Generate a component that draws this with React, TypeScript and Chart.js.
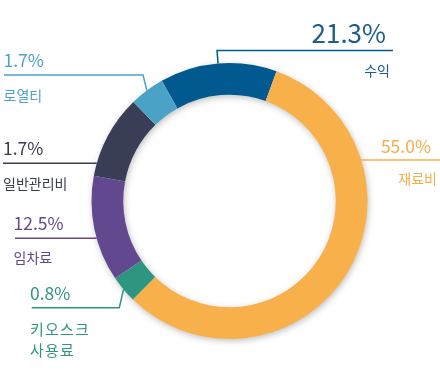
import { useEffect, useRef } from 'react';
import { Chart, registerables } from 'chart.js';

Chart.register(...registerables);

// ---- data ----
const categories = ['수익', '재료비', '키오스크 사용료', '임차료', '일반관리비', '로열티'];
const percentLabels = ['21.3%', '55.0%', '0.8%', '12.5%', '1.7%', '1.7%'];
const arcShares = [13.7, 56.8, 3.2, 12.4, 9.8, 4.1];

// ---- styles ----
const sliceColors = ['#005a8f', '#f8b04a', '#2e9680', '#62488f', '#393d55', '#4aa3c6'];
const textColors = ['#1b5d8c', '#f5ae4a', '#2e9680', '#62488f', '#3a3c4e', '#4aa3c6'];
const FONT = '"Noto Sans CJK KR", "Noto Sans", sans-serif';

type LabelLayout = {
  align: 'left' | 'right';
  valueX: number; valueY: number; valueSize: number;
  nameX: number; nameY: number; nameSize: number; nameSpacing: number;
  lineY: number; lineEnd: number;
  mode: 'elbow' | 'flat';
  elbowX?: number;
};

const labelLayout: LabelLayout[] = [
  { align: 'right', valueX: 386, valueY: 42.5, valueSize: 26, nameX: 390, nameY: 76, nameSize: 14, nameSpacing: 0, lineY: 50.5, lineEnd: 393, mode: 'elbow', elbowX: 217 },
  { align: 'right', valueX: 431, valueY: 152.5, valueSize: 17.5, nameX: 437, nameY: 184, nameSize: 14, nameSpacing: 0, lineY: 160, lineEnd: 440, mode: 'flat' },
  { align: 'left', valueX: 30, valueY: 299.5, valueSize: 17.5, nameX: 30, nameY: 334.5, nameSize: 15, nameSpacing: 1.2, lineY: 307.7, lineEnd: 31.7, mode: 'elbow', elbowX: 119.3 },
  { align: 'left', valueX: 13.5, valueY: 229.5, valueSize: 17.5, nameX: 13.5, nameY: 263, nameSize: 14, nameSpacing: 0, lineY: 238.3, lineEnd: 15, mode: 'flat' },
  { align: 'left', valueX: 3, valueY: 155, valueSize: 17.5, nameX: 3, nameY: 189, nameSize: 14, nameSpacing: 0, lineY: 163.3, lineEnd: 3, mode: 'flat' },
  { align: 'left', valueX: 3.5, valueY: 66.7, valueSize: 17.5, nameX: 3.5, nameY: 100.5, nameSize: 14, nameSpacing: 0, lineY: 75, lineEnd: 4, mode: 'elbow', elbowX: 143 },
];

const ringShadow = {
  id: 'ringShadow',
  beforeDatasetsDraw(chart: any) {
    const meta = chart.getDatasetMeta(0);
    const arc = meta.data[0];
    if (!arc) return;
    const { x, y, outerRadius, innerRadius } = arc.getProps(['x', 'y', 'outerRadius', 'innerRadius'], true);
    const ctx = chart.ctx;
    ctx.save();
    ctx.shadowColor = 'rgba(0,0,0,0.28)';
    ctx.shadowBlur = 7;
    ctx.shadowOffsetX = 1;
    ctx.shadowOffsetY = 2;
    ctx.beginPath();
    ctx.arc(x, y, outerRadius - 0.5, 0, Math.PI * 2);
    ctx.arc(x, y, innerRadius + 0.5, 0, Math.PI * 2, true);
    ctx.fillStyle = '#ffffff';
    ctx.fill('evenodd');
    ctx.restore();
  },
};

const calloutLabels = {
  id: 'calloutLabels',
  afterDatasetsDraw(chart: any) {
    const meta = chart.getDatasetMeta(0);
    const ctx = chart.ctx;
    ctx.save();
    meta.data.forEach((el: any, i: number) => {
      const L = labelLayout[i];
      const { x, y, outerRadius, startAngle, endAngle } = el.getProps(['x', 'y', 'outerRadius', 'startAngle', 'endAngle'], true);
      ctx.strokeStyle = sliceColors[i];
      ctx.lineWidth = 1.5;
      ctx.beginPath();
      if (L.mode === 'elbow') {
        const mid = (startAngle + endAngle) / 2;
        const sx = x + Math.cos(mid) * outerRadius;
        const sy = y + Math.sin(mid) * outerRadius;
        ctx.moveTo(sx, sy);
        ctx.lineTo(L.elbowX as number, L.lineY);
        ctx.lineTo(L.lineEnd, L.lineY);
      } else {
        const dy = L.lineY - y;
        const dx = Math.sqrt(Math.max(outerRadius * outerRadius - dy * dy, 0));
        const sx = L.align === 'right' ? x + dx : x - dx;
        ctx.moveTo(sx, L.lineY);
        ctx.lineTo(L.lineEnd, L.lineY);
      }
      ctx.stroke();

      ctx.fillStyle = textColors[i];
      ctx.textAlign = L.align;
      ctx.textBaseline = 'alphabetic';
      (ctx as any).letterSpacing = '0px';
      ctx.font = `400 ${L.valueSize}px ${FONT}`;
      ctx.fillText(percentLabels[i], L.valueX, L.valueY);
      ctx.font = `400 ${L.nameSize}px ${FONT}`;
      (ctx as any).letterSpacing = `${L.nameSpacing}px`;
      const lines = categories[i].split(' ');
      lines.forEach((ln, k) => ctx.fillText(ln, L.nameX, L.nameY + k * 21));
      (ctx as any).letterSpacing = '0px';
    });
    ctx.restore();
  },
};

export default function App() {
  const ref = useRef<HTMLCanvasElement | null>(null);
  useEffect(() => {
    document.body.style.margin = '0';
    if (!ref.current) return;
    const chart = new Chart(ref.current, {
      type: 'doughnut',
      data: {
        labels: categories,
        datasets: [{
          data: arcShares,
          backgroundColor: sliceColors,
          borderWidth: 0,
        }],
      },
      options: {
        animation: false,
        responsive: false,
        rotation: -29.4,
        cutout: '77%',
        layout: { padding: { left: 91.5, right: 72.5, top: 63, bottom: 41 } },
        plugins: { legend: { display: false }, tooltip: { enabled: false } },
      },
      plugins: [ringShadow, calloutLabels],
    });
    return () => chart.destroy();
  }, []);
  return (
    <div style={{ position: 'absolute', left: 0, top: 0, width: 440, height: 380 }}>
      <canvas ref={ref} width={440} height={380} style={{ width: 440, height: 380 }} />
    </div>
  );
}
